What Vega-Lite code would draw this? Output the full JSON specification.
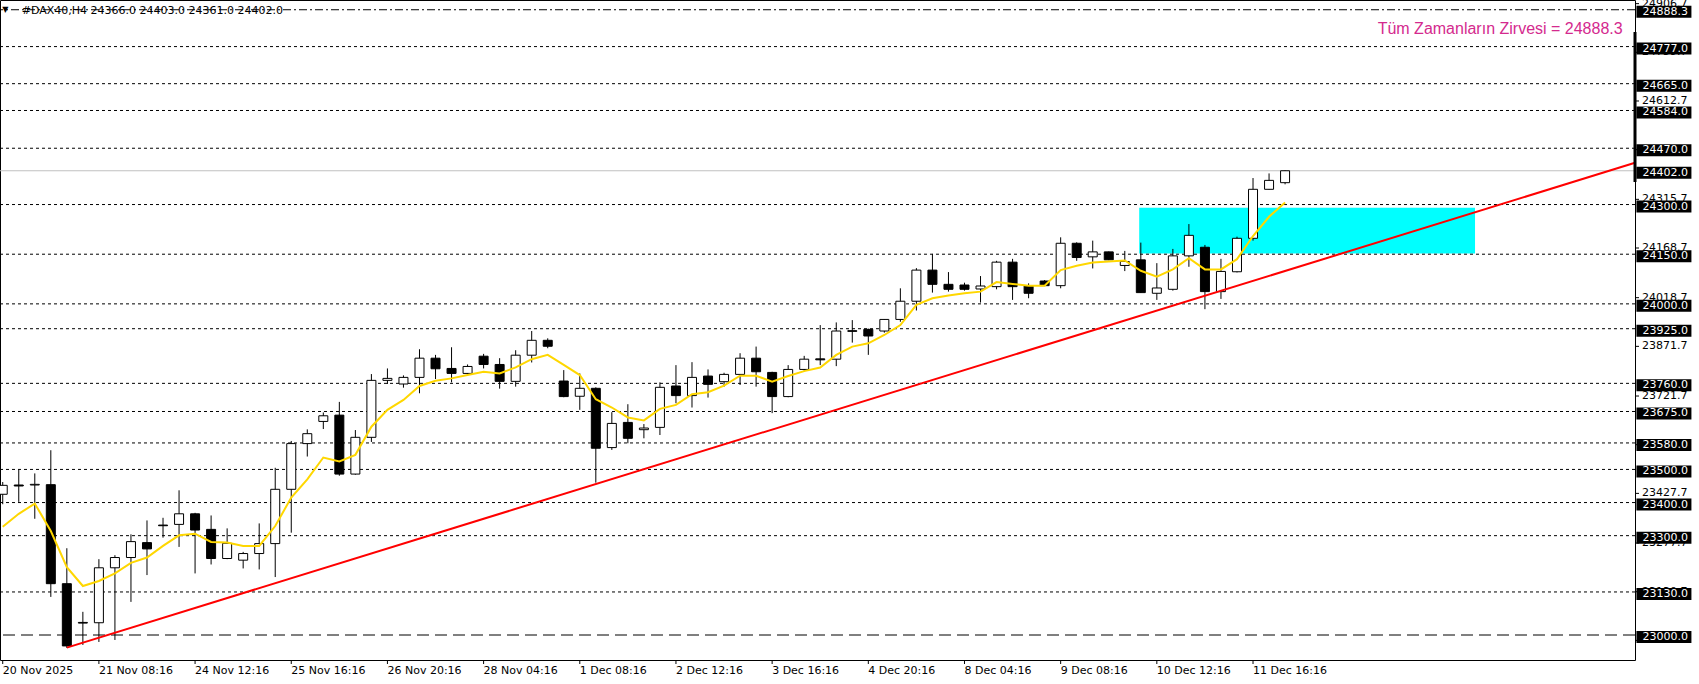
{
  "$schema": "https://vega.github.io/schema/vega-lite/v6.json",
  "width": 1635,
  "height": 660,
  "padding": {"left": 0, "top": 0, "right": 64, "bottom": 24},
  "autosize": {"type": "none"},
  "background": "white",
  "config": {"view": {"stroke": "black", "strokeWidth": 1}, "font": "DejaVu Sans", "scale": {"continuousPadding": 0}},
  "datasets": {
    "candles": [
      {"i":0,"o":23425,"h":23462,"l":23395,"c":23452,"m":23327},
      {"i":1,"o":23453,"h":23500,"l":23402,"c":23450,"m":23366},
      {"i":2,"o":23453,"h":23488,"l":23351,"c":23455,"m":23397},
      {"i":3,"o":23454,"h":23558,"l":23115,"c":23155,"m":23314},
      {"i":4,"o":23155,"h":23262,"l":22961,"c":22967,"m":23205},
      {"i":5,"o":23038,"h":23070,"l":22970,"c":23036,"m":23148},
      {"i":6,"o":23037,"h":23229,"l":22979,"c":23203,"m":23163},
      {"i":7,"o":23203,"h":23241,"l":22985,"c":23234,"m":23186},
      {"i":8,"o":23234,"h":23304,"l":23100,"c":23282,"m":23218},
      {"i":9,"o":23279,"h":23346,"l":23181,"c":23260,"m":23234},
      {"i":10,"o":23332,"h":23354,"l":23294,"c":23330,"m":23269},
      {"i":11,"o":23334,"h":23437,"l":23266,"c":23366,"m":23301},
      {"i":12,"o":23366,"h":23369,"l":23186,"c":23317,"m":23306},
      {"i":13,"o":23319,"h":23361,"l":23213,"c":23231,"m":23281},
      {"i":14,"o":23231,"h":23322,"l":23229,"c":23277,"m":23279},
      {"i":15,"o":23226,"h":23251,"l":23201,"c":23246,"m":23269},
      {"i":16,"o":23246,"h":23337,"l":23198,"c":23276,"m":23269},
      {"i":17,"o":23276,"h":23505,"l":23175,"c":23440,"m":23329},
      {"i":18,"o":23440,"h":23586,"l":23309,"c":23578,"m":23415},
      {"i":19,"o":23578,"h":23621,"l":23539,"c":23608,"m":23470},
      {"i":20,"o":23645,"h":23672,"l":23622,"c":23662,"m":23536},
      {"i":21,"o":23664,"h":23704,"l":23481,"c":23486,"m":23524},
      {"i":22,"o":23486,"h":23619,"l":23484,"c":23597,"m":23544},
      {"i":23,"o":23597,"h":23788,"l":23583,"c":23769,"m":23629},
      {"i":24,"o":23769,"h":23805,"l":23758,"c":23775,"m":23680},
      {"i":25,"o":23758,"h":23784,"l":23747,"c":23778,"m":23710},
      {"i":26,"o":23778,"h":23863,"l":23730,"c":23836,"m":23752},
      {"i":27,"o":23836,"h":23846,"l":23773,"c":23804,"m":23768},
      {"i":28,"o":23805,"h":23869,"l":23763,"c":23790,"m":23775},
      {"i":29,"o":23790,"h":23817,"l":23788,"c":23811,"m":23785},
      {"i":30,"o":23842,"h":23849,"l":23805,"c":23817,"m":23795},
      {"i":31,"o":23817,"h":23836,"l":23744,"c":23766,"m":23790},
      {"i":32,"o":23766,"h":23860,"l":23750,"c":23845,"m":23808},
      {"i":33,"o":23845,"h":23918,"l":23823,"c":23890,"m":23833},
      {"i":34,"o":23890,"h":23896,"l":23866,"c":23872,"m":23846},
      {"i":35,"o":23767,"h":23800,"l":23718,"c":23720,"m":23816},
      {"i":36,"o":23721,"h":23790,"l":23680,"c":23745,"m":23785},
      {"i":37,"o":23745,"h":23748,"l":23460,"c":23564,"m":23712},
      {"i":38,"o":23566,"h":23673,"l":23559,"c":23639,"m":23687},
      {"i":39,"o":23642,"h":23697,"l":23579,"c":23594,"m":23657},
      {"i":40,"o":23620,"h":23637,"l":23594,"c":23625,"m":23648},
      {"i":41,"o":23627,"h":23763,"l":23604,"c":23748,"m":23683},
      {"i":42,"o":23752,"h":23815,"l":23700,"c":23723,"m":23695},
      {"i":43,"o":23723,"h":23824,"l":23687,"c":23778,"m":23727},
      {"i":44,"o":23782,"h":23802,"l":23717,"c":23757,"m":23733},
      {"i":45,"o":23765,"h":23792,"l":23750,"c":23787,"m":23753},
      {"i":46,"o":23787,"h":23851,"l":23755,"c":23836,"m":23783},
      {"i":47,"o":23836,"h":23871,"l":23750,"c":23795,"m":23783},
      {"i":48,"o":23793,"h":23795,"l":23670,"c":23720,"m":23765},
      {"i":49,"o":23720,"h":23815,"l":23718,"c":23802,"m":23782},
      {"i":50,"o":23802,"h":23843,"l":23798,"c":23833,"m":23797},
      {"i":51,"o":23834,"h":23936,"l":23815,"c":23831,"m":23808},
      {"i":52,"o":23833,"h":23944,"l":23812,"c":23918,"m":23846},
      {"i":53,"o":23919,"h":23951,"l":23883,"c":23917,"m":23871},
      {"i":54,"o":23923,"h":23925,"l":23846,"c":23903,"m":23881},
      {"i":55,"o":23918,"h":23954,"l":23913,"c":23953,"m":23906},
      {"i":56,"o":23953,"h":24047,"l":23946,"c":24008,"m":23936},
      {"i":57,"o":24008,"h":24108,"l":23980,"c":24102,"m":23997},
      {"i":58,"o":24102,"h":24151,"l":24034,"c":24059,"m":24017},
      {"i":59,"o":24059,"h":24096,"l":24037,"c":24044,"m":24025},
      {"i":60,"o":24057,"h":24064,"l":24040,"c":24044,"m":24032},
      {"i":61,"o":24045,"h":24084,"l":24004,"c":24054,"m":24037},
      {"i":62,"o":24052,"h":24130,"l":24044,"c":24126,"m":24066},
      {"i":63,"o":24126,"h":24136,"l":24012,"c":24052,"m":24060},
      {"i":64,"o":24054,"h":24062,"l":24017,"c":24032,"m":24055},
      {"i":65,"o":24069,"h":24072,"l":24054,"c":24055,"m":24055},
      {"i":66,"o":24055,"h":24201,"l":24047,"c":24183,"m":24102},
      {"i":67,"o":24183,"h":24186,"l":24130,"c":24140,"m":24115},
      {"i":68,"o":24142,"h":24191,"l":24107,"c":24157,"m":24125},
      {"i":69,"o":24157,"h":24158,"l":24132,"c":24133,"m":24128},
      {"i":70,"o":24116,"h":24160,"l":24099,"c":24128,"m":24131},
      {"i":71,"o":24133,"h":24185,"l":24033,"c":24034,"m":24100},
      {"i":72,"o":24032,"h":24123,"l":24012,"c":24048,"m":24082},
      {"i":73,"o":24044,"h":24166,"l":24040,"c":24145,"m":24104},
      {"i":74,"o":24145,"h":24241,"l":24112,"c":24207,"m":24138},
      {"i":75,"o":24171,"h":24178,"l":23984,"c":24037,"m":24104},
      {"i":76,"o":24037,"h":24136,"l":24015,"c":24098,"m":24104},
      {"i":77,"o":24097,"h":24203,"l":24095,"c":24198,"m":24135},
      {"i":78,"o":24198,"h":24380,"l":24191,"c":24346,"m":24205},
      {"i":79,"o":24346,"h":24394,"l":24345,"c":24373,"m":24263},
      {"i":80,"o":24366,"h":24403,"l":24361,"c":24402,"m":24306}
    ],
    "dotLevels": [
      {"p":24777},{"p":24665},{"p":24584},{"p":24470},{"p":24300},{"p":24150},{"p":24000},{"p":23925},
      {"p":23760},{"p":23675},{"p":23580},{"p":23500},{"p":23400},{"p":23300},{"p":23130}
    ],
    "priceTags": [
      {"p":24888.3},{"p":24777},{"p":24665},{"p":24584},{"p":24470},{"p":24402},{"p":24300},{"p":24150},
      {"p":24000},{"p":23925},{"p":23760},{"p":23675},{"p":23580},{"p":23500},{"p":23400},{"p":23300},
      {"p":23130},{"p":23000}
    ],
    "yTicks": [
      {"p":24906.7},{"p":24759.7},{"p":24612.7},{"p":24465.7},{"p":24315.7},{"p":24168.7},{"p":24018.7},
      {"p":23871.7},{"p":23721.7},{"p":23574.7},{"p":23427.7},{"p":23277.7},{"p":23130.7},{"p":22983.7}
    ],
    "xTicks": [
      {"i":0,"t":"20 Nov 2025"},{"i":6,"t":"21 Nov 08:16"},{"i":12,"t":"24 Nov 12:16"},{"i":18,"t":"25 Nov 16:16"},
      {"i":24,"t":"26 Nov 20:16"},{"i":30,"t":"28 Nov 04:16"},{"i":36,"t":"1 Dec 08:16"},{"i":42,"t":"2 Dec 12:16"},
      {"i":48,"t":"3 Dec 16:16"},{"i":54,"t":"4 Dec 20:16"},{"i":60,"t":"8 Dec 04:16"},{"i":66,"t":"9 Dec 08:16"},
      {"i":72,"t":"10 Dec 12:16"},{"i":78,"t":"11 Dec 16:16"}
    ]
  },
  "layer": [
    {
      "data": {"values": [{"a": 70.9, "b": 91.85, "lo": 24152, "hi": 24290}]},
      "mark": {"type": "rect", "fill": "#00FFFF"},
      "encoding": {
        "x": {"field": "a", "type": "quantitative", "scale": {"domain": [-0.17, 101.83], "nice": false, "zero": false, "padding": 0}, "axis": null},
        "x2": {"field": "b"},
        "y": {"field": "lo", "type": "quantitative", "scale": {"domain": [22924.5, 24917.7], "nice": false, "zero": false, "padding": 0}, "axis": null},
        "y2": {"field": "hi"}
      }
    },
    {
      "data": {"name": "dotLevels"},
      "mark": {"type": "rule", "color": "black", "strokeWidth": 1, "strokeDash": [3, 3]},
      "encoding": {
        "y": {"field": "p", "type": "quantitative", "scale": {"domain": [22924.5, 24917.7], "nice": false, "zero": false, "padding": 0}, "axis": null}
      }
    },
    {
      "data": {"values": [{"p": 24888.3}]},
      "mark": {"type": "rule", "color": "black", "strokeWidth": 1, "strokeDash": [8, 3, 2, 3]},
      "encoding": {
        "y": {"field": "p", "type": "quantitative", "scale": {"domain": [22924.5, 24917.7], "nice": false, "zero": false, "padding": 0}, "axis": null}
      }
    },
    {
      "data": {"values": [{"p": 23000}]},
      "mark": {"type": "rule", "color": "black", "strokeWidth": 1, "strokeDash": [12, 6]},
      "encoding": {
        "y": {"field": "p", "type": "quantitative", "scale": {"domain": [22924.5, 24917.7], "nice": false, "zero": false, "padding": 0}, "axis": null}
      }
    },
    {
      "data": {"values": [{"p": 24402}]},
      "mark": {"type": "rule", "color": "#C0C0C0", "strokeWidth": 1},
      "encoding": {
        "y": {"field": "p", "type": "quantitative", "scale": {"domain": [22924.5, 24917.7], "nice": false, "zero": false, "padding": 0}, "axis": null}
      }
    },
    {
      "data": {"name": "candles"},
      "mark": {"type": "rule", "color": "black", "strokeWidth": 1},
      "encoding": {
        "x": {"field": "i", "type": "quantitative", "scale": {"domain": [-0.17, 101.83], "nice": false, "zero": false, "padding": 0}, "axis": null},
        "y": {"field": "l", "type": "quantitative", "scale": {"domain": [22924.5, 24917.7], "nice": false, "zero": false, "padding": 0}, "axis": null},
        "y2": {"field": "h"}
      }
    },
    {
      "data": {"name": "candles"},
      "mark": {"type": "bar", "width": 9, "stroke": "black", "strokeWidth": 1},
      "encoding": {
        "x": {"field": "i", "type": "quantitative", "scale": {"domain": [-0.17, 101.83], "nice": false, "zero": false, "padding": 0}, "axis": null},
        "y": {"field": "o", "type": "quantitative", "scale": {"domain": [22924.5, 24917.7], "nice": false, "zero": false, "padding": 0}, "axis": null},
        "y2": {"field": "c"},
        "fill": {"condition": {"test": "datum.c < datum.o", "value": "black"}, "value": "white"}
      }
    },
    {
      "data": {"values": [{"i": 4, "p": 22962}, {"i": 101.83, "p": 24426}]},
      "mark": {"type": "line", "color": "#FF0000", "strokeWidth": 2},
      "encoding": {
        "x": {"field": "i", "type": "quantitative", "scale": {"domain": [-0.17, 101.83], "nice": false, "zero": false, "padding": 0}, "axis": null},
        "y": {"field": "p", "type": "quantitative", "scale": {"domain": [22924.5, 24917.7], "nice": false, "zero": false, "padding": 0}, "axis": null}
      }
    },
    {
      "data": {"name": "candles"},
      "mark": {"type": "line", "color": "#FFD700", "strokeWidth": 2},
      "encoding": {
        "x": {"field": "i", "type": "quantitative", "scale": {"domain": [-0.17, 101.83], "nice": false, "zero": false, "padding": 0}, "axis": null},
        "y": {"field": "m", "type": "quantitative", "scale": {"domain": [22924.5, 24917.7], "nice": false, "zero": false, "padding": 0}, "axis": null}
      }
    },
    {
      "data": {"name": "xTicks"},
      "mark": {"type": "rule", "color": "black", "strokeWidth": 1},
      "encoding": {
        "x": {"field": "i", "type": "quantitative", "scale": {"domain": [-0.17, 101.83], "nice": false, "zero": false, "padding": 0}, "axis": null},
        "y": {"datum": 22924.5, "type": "quantitative", "scale": {"domain": [22924.5, 24917.7], "nice": false, "zero": false, "padding": 0}, "axis": null},
        "y2": {"datum": 22912.4}
      }
    },
    {
      "data": {"name": "xTicks"},
      "mark": {"type": "text", "align": "left", "baseline": "top", "font": "DejaVu Sans", "fontSize": 11, "color": "black"},
      "encoding": {
        "x": {"field": "i", "type": "quantitative", "scale": {"domain": [-0.17, 101.83], "nice": false, "zero": false, "padding": 0}, "axis": null},
        "y": {"datum": 22909.4, "type": "quantitative", "scale": {"domain": [22924.5, 24917.7], "nice": false, "zero": false, "padding": 0}, "axis": null},
        "text": {"field": "t"}
      }
    },
    {
      "data": {"name": "yTicks"},
      "mark": {"type": "rule", "color": "black", "strokeWidth": 1},
      "encoding": {
        "x": {"datum": 101.83, "type": "quantitative", "scale": {"domain": [-0.17, 101.83], "nice": false, "zero": false, "padding": 0}, "axis": null},
        "x2": {"datum": 102.08},
        "y": {"field": "p", "type": "quantitative", "scale": {"domain": [22924.5, 24917.7], "nice": false, "zero": false, "padding": 0}, "axis": null}
      }
    },
    {
      "data": {"name": "yTicks"},
      "mark": {"type": "text", "align": "left", "baseline": "middle", "dx": 7, "font": "DejaVu Sans", "fontSize": 11, "color": "black"},
      "encoding": {
        "x": {"datum": 101.83, "type": "quantitative", "scale": {"domain": [-0.17, 101.83], "nice": false, "zero": false, "padding": 0}, "axis": null},
        "y": {"field": "p", "type": "quantitative", "scale": {"domain": [22924.5, 24917.7], "nice": false, "zero": false, "padding": 0}, "axis": null},
        "text": {"field": "p", "type": "quantitative", "format": ".1f"}
      }
    },
    {
      "data": {"values": [{"a": 101.83, "lo": 24368, "hi": 24821}]},
      "mark": {"type": "rule", "color": "black", "strokeWidth": 3},
      "encoding": {
        "x": {"field": "a", "type": "quantitative", "scale": {"domain": [-0.17, 101.83], "nice": false, "zero": false, "padding": 0}, "axis": null},
        "y": {"field": "lo", "type": "quantitative", "scale": {"domain": [22924.5, 24917.7], "nice": false, "zero": false, "padding": 0}, "axis": null},
        "y2": {"field": "hi"}
      }
    },
    {
      "data": {"name": "priceTags"},
      "mark": {"type": "bar", "height": 12, "yOffset": 2, "color": "black"},
      "encoding": {
        "x": {"datum": 101.92, "type": "quantitative", "scale": {"domain": [-0.17, 101.83], "nice": false, "zero": false, "padding": 0}, "axis": null},
        "x2": {"datum": 105.35},
        "y": {"field": "p", "type": "quantitative", "scale": {"domain": [22924.5, 24917.7], "nice": false, "zero": false, "padding": 0}, "axis": null}
      }
    },
    {
      "data": {"name": "priceTags"},
      "mark": {"type": "text", "align": "left", "baseline": "middle", "dx": 6, "dy": 2, "font": "DejaVu Sans", "fontSize": 11, "color": "white"},
      "encoding": {
        "x": {"datum": 101.92, "type": "quantitative", "scale": {"domain": [-0.17, 101.83], "nice": false, "zero": false, "padding": 0}, "axis": null},
        "y": {"field": "p", "type": "quantitative", "scale": {"domain": [22924.5, 24917.7], "nice": false, "zero": false, "padding": 0}, "axis": null},
        "text": {"field": "p", "type": "quantitative", "format": ".1f"}
      }
    },
    {
      "data": {"values": [{"t": "▼"}]},
      "mark": {"type": "text", "align": "center", "baseline": "middle", "font": "DejaVu Sans", "fontSize": 8, "color": "black"},
      "encoding": {
        "x": {"datum": 0.17, "type": "quantitative", "scale": {"domain": [-0.17, 101.83], "nice": false, "zero": false, "padding": 0}, "axis": null},
        "y": {"datum": 24886, "type": "quantitative", "scale": {"domain": [22924.5, 24917.7], "nice": false, "zero": false, "padding": 0}, "axis": null},
        "text": {"field": "t"}
      }
    },
    {
      "data": {"values": [{"t": "#DAX40,H4  24366.0 24403.0 24361.0 24402.0"}]},
      "mark": {"type": "text", "align": "left", "baseline": "middle", "font": "DejaVu Sans", "fontSize": 11, "color": "black"},
      "encoding": {
        "x": {"datum": 1.185, "type": "quantitative", "scale": {"domain": [-0.17, 101.83], "nice": false, "zero": false, "padding": 0}, "axis": null},
        "y": {"datum": 24883, "type": "quantitative", "scale": {"domain": [22924.5, 24917.7], "nice": false, "zero": false, "padding": 0}, "axis": null},
        "text": {"field": "t"}
      }
    },
    {
      "data": {"values": [{"t": "Tüm Zamanların Zirvesi = 24888.3"}]},
      "mark": {"type": "text", "align": "right", "baseline": "middle", "font": "Liberation Sans", "fontSize": 16, "color": "#D42A8E"},
      "encoding": {
        "x": {"datum": 101.06, "type": "quantitative", "scale": {"domain": [-0.17, 101.83], "nice": false, "zero": false, "padding": 0}, "axis": null},
        "y": {"datum": 24829, "type": "quantitative", "scale": {"domain": [22924.5, 24917.7], "nice": false, "zero": false, "padding": 0}, "axis": null},
        "text": {"field": "t"}
      }
    }
  ]
}
